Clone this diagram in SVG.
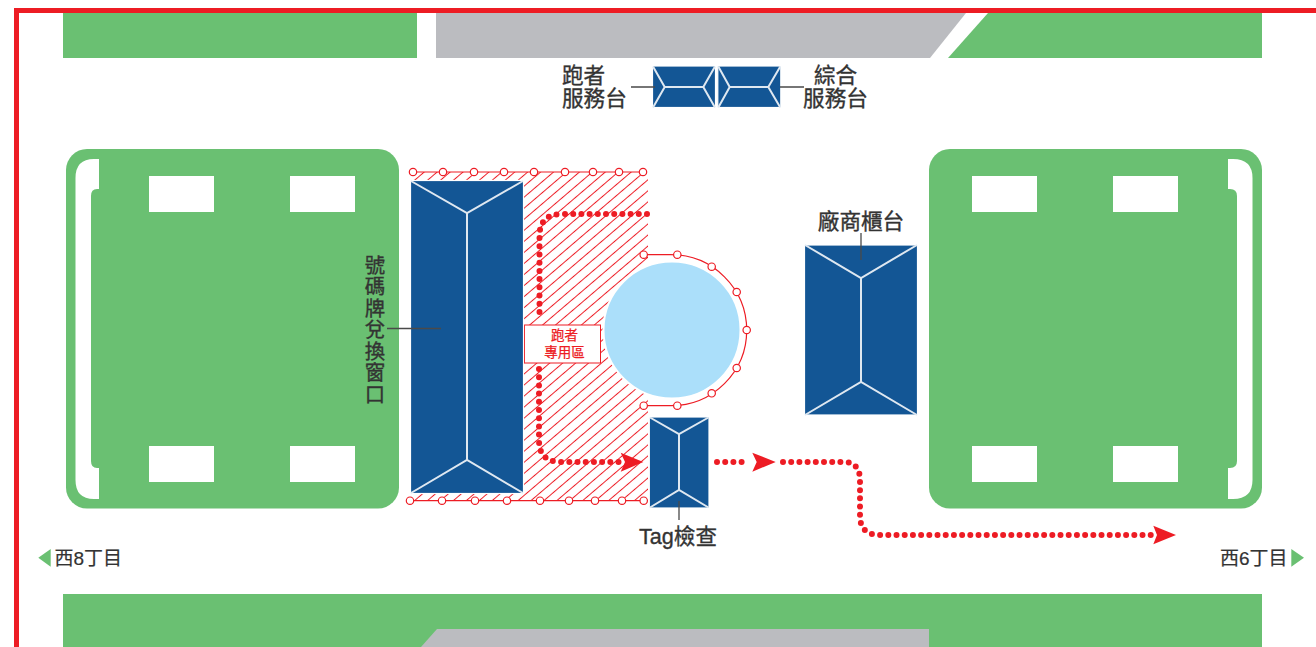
<svg xmlns="http://www.w3.org/2000/svg" width="1316" height="647" viewBox="0 0 1316 647">
<style>
.g{fill:#6ac072}.gy{fill:#bbbcc0}.w{fill:#fff}
.b{fill:#135695;stroke:#fff;stroke-width:1.2}
.bl{fill:none;stroke:#dfe8f1;stroke-width:2}
.ld{fill:none;stroke:#4a4a4a;stroke-width:1.3}
.rl{fill:none;stroke:#ed1c24;stroke-width:1.2}
.pt{fill:#fff;stroke:#ed1c24;stroke-width:1.2}
.dot{fill:none;stroke:#ed1c24;stroke-width:6;stroke-linecap:round;stroke-dasharray:0 8.2}
.ah{fill:#ed1c24}
text{font-family:"Liberation Sans","Noto Sans CJK TC",sans-serif;fill:#333}
.t{font-size:21.600px;stroke:#333;stroke-width:.35}
.v{font-size:20.400px;stroke:#333;stroke-width:.35;text-anchor:middle}
.m{text-anchor:middle}
.s{font-size:19px;stroke:#333;stroke-width:.2}
.r{font-size:13.500px;fill:#ed1c24;text-anchor:middle;stroke:#ed1c24;stroke-width:.25}
</style>
<defs>
<pattern id="hatch" patternUnits="userSpaceOnUse" width="20" height="8.4" patternTransform="rotate(-40.5 411 172)">
<line x1="0" y1="4.2" x2="20" y2="4.2" stroke="#ed1c24" stroke-width="1"/>
</pattern>
</defs>
<rect width="1316" height="647" fill="#fff"/>
<g id="roads">
<rect class="g" x="63" y="13" width="354" height="45"/>
<path class="gy" d="M436 13H966L930 58H436Z"/>
<path class="g" d="M988 13H1262V58H948Z"/>
<rect class="g" x="63" y="594" width="1199" height="53"/>
<path class="gy" d="M437 629H929V647H421Z"/>
</g>
<path id="border" d="M16.500 647V10.500H1316" fill="none" stroke="#ed1c24" stroke-width="5"/>
<g id="park-west">
<rect class="g" x="66" y="149" width="333" height="359.500" rx="21"/>
<path class="w" d="M99 159H94Q75.500 159 75.500 178V480Q75.500 499 94 499H99V468H97Q91 468 91 461V196Q91 189 97 189H99Z"/>
<rect class="w" x="149" y="176" width="65" height="36"/>
<rect class="w" x="290" y="176" width="65" height="36"/>
<rect class="w" x="149" y="446" width="65" height="36"/>
<rect class="w" x="290" y="446" width="65" height="36"/>
</g>
<g id="park-east">
<rect class="g" x="929" y="149" width="333" height="359.500" rx="21"/>
<path class="w" d="M1228 159H1233Q1252.500 159 1252.500 178V480Q1252.500 499 1233 499H1228V468H1230Q1237 468 1237 461V196Q1237 189 1230 189H1228Z"/>
<rect class="w" x="972" y="176" width="65" height="36"/>
<rect class="w" x="1113" y="176" width="65" height="36"/>
<rect class="w" x="972" y="446" width="65" height="36"/>
<rect class="w" x="1113" y="446" width="65" height="36"/>
</g>
<g id="runner-zone">
<rect x="411" y="172" width="237" height="328.500" fill="url(#hatch)"/>
<path class="rl" d="M413 172H643M410 500.700H644"/>
<circle cx="672" cy="330" r="68.500" fill="#abdffa" stroke="#fff" stroke-width="2"/>
<path class="rl" d="M643.700 254.700H670.700A76 75.500 0 0 1 670.700 405.700H643.700"/>
<g>
<circle class="pt" cx="413" cy="172" r="3.700"/><circle class="pt" cx="443" cy="172" r="3.700"/><circle class="pt" cx="474" cy="172" r="3.700"/><circle class="pt" cx="504" cy="172" r="3.700"/><circle class="pt" cx="534" cy="172" r="3.700"/><circle class="pt" cx="565" cy="172" r="3.700"/><circle class="pt" cx="593" cy="172" r="3.700"/><circle class="pt" cx="619" cy="172" r="3.700"/><circle class="pt" cx="643" cy="172" r="3.700"/>
<circle class="pt" cx="410" cy="500.700" r="3.700"/><circle class="pt" cx="442" cy="500.700" r="3.700"/><circle class="pt" cx="475" cy="500.700" r="3.700"/><circle class="pt" cx="507" cy="500.700" r="3.700"/><circle class="pt" cx="540" cy="500.700" r="3.700"/><circle class="pt" cx="569" cy="500.700" r="3.700"/><circle class="pt" cx="595" cy="500.700" r="3.700"/><circle class="pt" cx="622" cy="500.700" r="3.700"/><circle class="pt" cx="643.700" cy="500.700" r="3.700"/>
<circle class="pt" cx="643.700" cy="254.700" r="3.700"/><circle class="pt" cx="677.300" cy="254.700" r="3.700"/><circle class="pt" cx="711.700" cy="266.700" r="3.700"/><circle class="pt" cx="736.700" cy="292" r="3.700"/><circle class="pt" cx="746.700" cy="330" r="3.700"/><circle class="pt" cx="736.700" cy="368" r="3.700"/><circle class="pt" cx="711.700" cy="393.300" r="3.700"/><circle class="pt" cx="677.300" cy="405.700" r="3.700"/><circle class="pt" cx="643.700" cy="405.700" r="3.700"/>
</g>
<rect x="524.500" y="325" width="76" height="38" fill="#fff" stroke="#ed1c24" stroke-width="1"/>
<text class="r" x="564.500" y="340">跑者</text>
<text class="r" x="564.500" y="356.500">專用區</text>
</g>
<g id="bib-exchange">
<rect class="b" x="410.500" y="180.500" width="113" height="313"/>
<path class="bl" d="M411 181L467 213L523 181M467 213V460M411 493L467 460L523 493"/>
</g>
<g id="tag-check">
<rect class="b" x="649.300" y="417" width="59.700" height="91"/>
<path class="bl" d="M650 417.500L679 434L708.500 417.500M679 434V490M650 507.500L679 490L708.500 507.500"/>
</g>
<g id="vendor-booth">
<rect class="b" x="804.500" y="245" width="113" height="170"/>
<path class="bl" d="M805 245L861 278L917 245M861 278V382M805 415L861 382L917 415"/>
</g>
<g id="runner-desk">
<rect class="b" x="652.500" y="66" width="63" height="41.500"/>
<path class="bl" d="M653 66.500L664.700 87L653 107.500M664.700 87H703.300M715 66.500L703.300 87L715 107.500"/>
</g>
<g id="general-desk">
<rect class="b" x="717.800" y="66" width="63" height="41.500"/>
<path class="bl" d="M718.300 66.500L729.700 87L718.300 107.500M729.700 87H768.300M780.300 66.500L768.300 87L780.300 107.500"/>
</g>
<g id="connectors">
<path class="ld" d="M631 87H655M780 87H804M861 233V260M387 328.500H441M679 501V520"/>
<path class="dot" d="M647 214H562Q539.500 214 539.500 236V320"/>
<path class="dot" d="M539 369V440Q539 462 561 462H622"/>
<path class="ah" d="M620.700 452.700L643.300 462L620.700 471.700L625 462Z"/>
<path class="dot" d="M717 462H748"/>
<path class="ah" d="M752.300 452.700L775.700 462L752.300 471.700L756.700 462Z"/>
<path class="dot" d="M783 462H843Q860 462 860 480V516Q860 535 880 535H1152"/>
<path class="ah" d="M1153.300 525.700L1176 535L1153.300 544.300L1157 535Z"/>
</g>
<g id="labels">
<text class="t" x="562" y="83">跑者</text>
<text class="t" x="562" y="106">服務台</text>
<text class="t m" x="835.500" y="83">綜合</text>
<text class="t m" x="835.500" y="106">服務台</text>
<text class="t m" x="861" y="229">廠商櫃台</text>
<text class="t m" x="678" y="544">Tag檢查</text>
<text class="v" x="375" y="272.500">號</text>
<text class="v" x="375" y="294">碼</text>
<text class="v" x="375" y="315.500">牌</text>
<text class="v" x="375" y="337">兌</text>
<text class="v" x="375" y="358.500">換</text>
<text class="v" x="375" y="380">窗</text>
<text class="v" x="375" y="401.500">口</text>
<text class="s" x="54.500" y="564.500">西8丁目</text>
<text class="s" x="1220" y="564.500">西6丁目</text>
<path class="g" d="M38.300 557.800L50.700 549V566.700Z"/>
<path class="g" d="M1291.300 549L1304 557.800L1291.300 566.700Z"/>
</g>
</svg>
